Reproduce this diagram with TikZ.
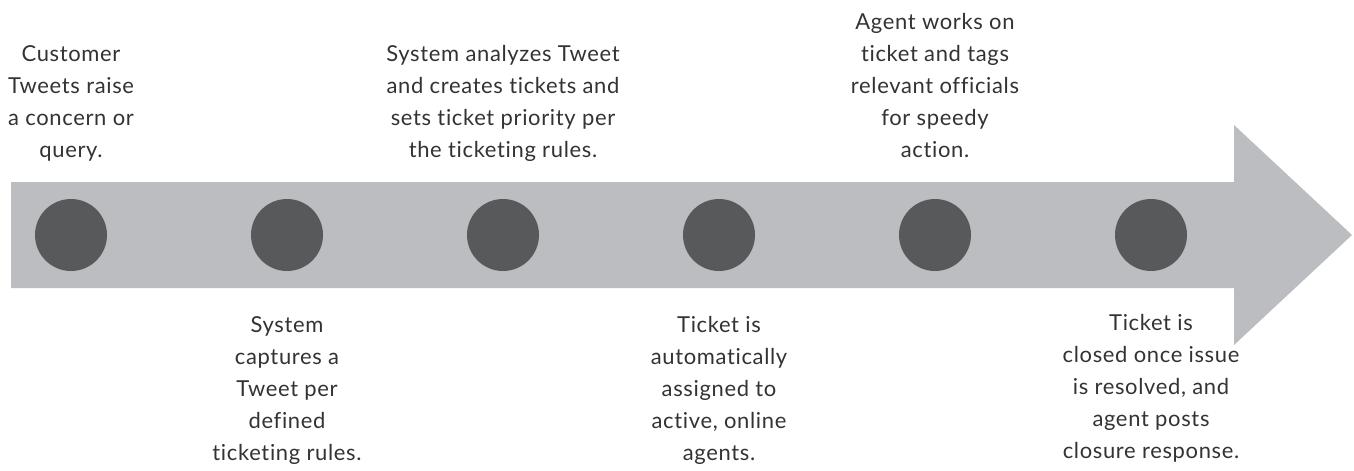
\documentclass[tikz,border=0pt]{standalone}
\usepackage{fontspec}
\setmainfont{Lato}[LetterSpace=3.0,Ligatures=NoCommon]
\usepackage{tikz}
\definecolor{band}{HTML}{BCBDC0}
\definecolor{dotgray}{HTML}{58595B}
\definecolor{ink}{HTML}{333333}
\tikzstyle{dot}=[circle,fill=dotgray,draw=none,inner sep=0,minimum size=1.44cm]
\tikzstyle{event}=[align=center,text=ink,inner sep=0,anchor=base,font=\fontsize{12.5}{18.1}\selectfont]

\begin{document}
\begin{tikzpicture}
        \useasboundingbox (0,0) rectangle (27.08,9.4);
        % timeline arrow
        \fill[band] (0.22,3.64) -- (24.68,3.64) -- (24.68,2.5) -- (27.04,4.7)
            -- (24.68,6.9) -- (24.68,5.76) -- (0.22,5.76) -- cycle;

        \foreach \i in {0,...,5}
            \node[dot] (m\i) at (1.42+4.32*\i,4.7) {};

        % above the arrow (anchored at last line)
        \node[event] (tweet) at (1.42,6.26)
            {Customer\\Tweets raise\\a concern or\\query.};
        \node[event] (analyze) at (10.06,6.26)
            {System analyzes Tweet\\and creates tickets and\\sets ticket priority per\\the ticketing rules.};
        \node[event] (work) at (18.70,6.26)
            {Agent works on\\ticket and tags\\relevant officials\\for speedy\\action.};
        % below the arrow
        \node[event] (capture) at (5.74,0.2)
            {System\\captures a\\Tweet per\\defined\\ticketing rules.};
        \node[event] (assign) at (14.38,0.2)
            {Ticket is\\automatically\\assigned to\\active, online\\agents.};
        \node[event] (close) at (23.02,0.24)
            {Ticket is\\closed once issue\\is resolved, and\\agent posts\\closure response.};
    \end{tikzpicture}
\end{document}
